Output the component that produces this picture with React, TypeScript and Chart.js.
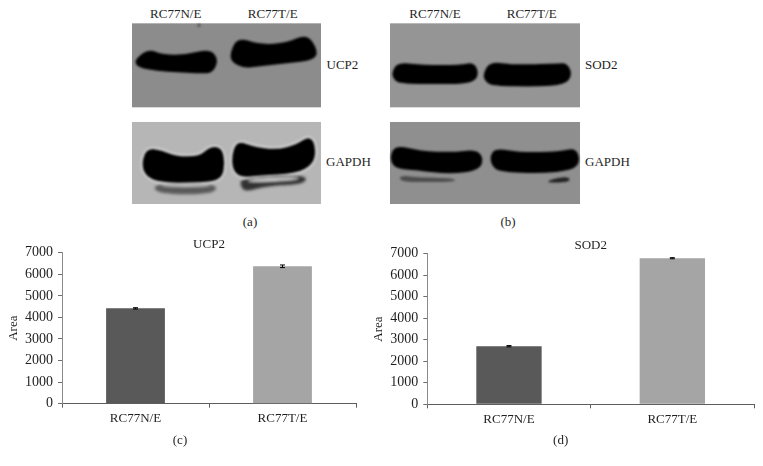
import React, { useEffect, useRef } from "react";
import { Chart, registerables } from "chart.js";

Chart.register(...registerables);

const categories = ["RC77N/E", "RC77T/E"];
const ucp2Values = [4420, 6370];
const ucp2Errors = [30, 60];
const sod2Values = [2700, 6790];
const sod2Errors = [30, 25];
const yTicks = [0, 1000, 2000, 3000, 4000, 5000, 6000, 7000];
const barColors = ["#595959", "#a5a5a5"];

const FONT = "'Liberation Serif', serif";
const INK = "#1f1f1f";

const errorBars = {
  id: "errorBars",
  afterDatasetsDraw(chart: any, _a: any, opts: any) {
    const { ctx, scales } = chart;
    const meta = chart.getDatasetMeta(0);
    ctx.save();
    ctx.strokeStyle = "#000";
    ctx.lineWidth = 1;
    meta.data.forEach((bar: any, i: number) => {
      const v = chart.data.datasets[0].data[i];
      const e = opts.errors[i];
      const hi = scales.y.getPixelForValue(v + e);
      const lo = scales.y.getPixelForValue(v - e);
      ctx.beginPath();
      ctx.moveTo(bar.x, hi);
      ctx.lineTo(bar.x, lo);
      ctx.moveTo(bar.x - 2.5, hi);
      ctx.lineTo(bar.x + 2.5, hi);
      ctx.moveTo(bar.x - 2.5, lo);
      ctx.lineTo(bar.x + 2.5, lo);
      ctx.stroke();
    });
    ctx.restore();
  },
};

type PanelProps = {
  title: string;
  values: number[];
  errors: number[];
  left: number;
  top: number;
  width: number;
  height: number;
  axisLeft: number;
  axisRight: number;
  axisTop: number;
  axisBottom: number;
  titlePad: number;
};

function BarPanel(p: PanelProps) {
  const ref = useRef<HTMLCanvasElement>(null);
  useEffect(() => {
    const chart = new Chart(ref.current!, {
      type: "bar",
      plugins: [errorBars],
      data: {
        labels: categories,
        datasets: [
          {
            data: p.values,
            backgroundColor: barColors,
            categoryPercentage: 1,
            barPercentage: 0.4,
          },
        ],
      },
      options: {
        responsive: false,
        animation: false,
        devicePixelRatio: 1,
        layout: {
          padding: { left: 0, right: p.width - p.axisRight, top: p.axisTop - 16.4, bottom: 0 },
        },
        plugins: {
          legend: { display: false },
          tooltip: { enabled: false },
          title: {
            display: true,
            fullSize: false,
            text: p.title,
            color: INK,
            font: { family: FONT, size: 13, weight: "normal", lineHeight: 1.2 },
            padding: { top: 0, bottom: 0.8 },
          },
          errorBars: { errors: p.errors },
        } as any,
        scales: {
          x: {
            afterFit: (s: any) => {
              s.height = p.height - p.axisBottom;
            },
            grid: { display: true, drawOnChartArea: false, offset: true, tickLength: 4, color: "#5e5e5e" },
            border: { color: "#5e5e5e", width: 1 },
            ticks: { color: INK, font: { family: FONT, size: 13 }, padding: 3, maxRotation: 0 },
          },
          y: {
            min: 0,
            max: 7000,
            afterFit: (s: any) => {
              s.width = p.axisLeft;
            },
            afterBuildTicks: (s: any) => {
              s.ticks = yTicks.map((value) => ({ value }));
            },
            grid: { display: true, drawOnChartArea: false, tickLength: 4, color: "#6e6e6e" },
            border: { color: "#8a8a8a", width: 1 },
            ticks: {
              color: INK,
              font: { family: FONT, size: 14 },
              padding: 5,
              callback: (v: any) => String(v),
            },
            title: {
              display: true,
              text: "Area",
              color: INK,
              font: { family: FONT, size: 13, lineHeight: 1.2 },
              padding: { top: p.titlePad, bottom: 0 },
            },
          },
        },
      } as any,
    });
    return () => chart.destroy();
  }, []);
  return (
    <canvas
      ref={ref}
      width={p.width}
      height={p.height}
      style={{ position: "absolute", left: p.left, top: p.top, width: p.width, height: p.height }}
    />
  );
}

function Label({ x, y, text, center }: { x: number; y: number; text: string; center?: boolean }) {
  return (
    <div
      style={{
        position: "absolute",
        left: x,
        top: y,
        transform: center ? "translate(-50%, -50%)" : "translateY(-50%)",
        font: `13px ${FONT}`,
        color: INK,
        whiteSpace: "nowrap",
      }}
    >
      {text}
    </div>
  );
}

// Blot band outlines, traced in 3x crop units of each panel; corners are rounded off through edge midpoints.
const P = (s: string) => {
  const pts = s.trim().split(/\s+/).map((q) => q.split(",").map(Number));
  const mid = (a: number[], b: number[]) => [(a[0] + b[0]) / 2, (a[1] + b[1]) / 2];
  const start = mid(pts[pts.length - 1], pts[0]);
  let d = `M${start[0]},${start[1]}`;
  pts.forEach((pt, i) => {
    const m = mid(pt, pts[(i + 1) % pts.length]);
    d += ` Q${pt[0]},${pt[1]} ${m[0]},${m[1]}`;
  });
  return d + " Z";
};

function Blots() {
  const band = (d: string, key: string) => <path key={key} d={P(d)} fill="#030303" stroke="#030303" strokeWidth={6} strokeLinejoin="round" />;
  const halo = (d: string, key: string) => <path key={key} d={P(d)} fill="none" stroke="#e2e2e2" strokeWidth={14} strokeLinejoin="round" />;
  const gapA1 = "68,490 82,448 125,453 165,472 240,472 270,443 303,445 312,490 303,535 250,545 120,545 78,525";
  const gapA2 = "338,470 352,425 400,443 470,452 530,437 570,410 585,445 578,490 530,518 420,523 365,530 342,510";
  return (
    <svg width={763} height={230} style={{ position: "absolute", left: 0, top: 0 }}>
      <defs>
        <filter id="b1" x="-20%" y="-40%" width="140%" height="180%"><feGaussianBlur stdDeviation="3.5" /></filter>
        <filter id="b2" x="-20%" y="-60%" width="140%" height="220%"><feGaussianBlur stdDeviation="5" /></filter>
      </defs>
      <g transform="translate(120,0) scale(0.3333)">
        <rect x="36" y="70" width="567" height="252" fill="#8c8c8c" />
        <rect x="36" y="366" width="567" height="246" fill="#b6b6b6" />
        <g filter="url(#b1)">
          <circle cx="237" cy="76" r="5" fill="#555" />
          {band("44,183 85,150 130,167 200,167 268,150 292,178 278,215 245,218 180,214 110,210 58,200", "u1")}
          {band("335,155 355,115 420,137 500,132 560,105 590,150 582,178 500,186 420,196 370,202 335,182", "u2")}
        </g>
        <g filter="url(#b2)">
          {halo(gapA1, "h1")}
          {halo(gapA2, "h2")}
          <path d={P("102,550 288,550 288,578 200,584 106,578")} fill="#5a5a5a" />
          <path d={P("362,532 556,522 558,552 440,558 380,575 362,562")} fill="#333" />
          <path d={P("125,552 270,552 270,560 125,560")} fill="#c8c8c8" />
          <path d={P("385,537 535,530 535,540 385,547")} fill="#d0d0d0" />
        </g>
        <g filter="url(#b1)">
          {band(gapA1, "g1")}
          {band(gapA2, "g2")}
        </g>
      </g>
      <g transform="translate(380,0) scale(0.3333)">
        <rect x="30" y="70" width="570" height="252" fill="#959595" />
        <rect x="30" y="366" width="570" height="246" fill="#8f8f8f" />
        <g filter="url(#b1)">
          {band("38,218 55,190 130,198 240,198 280,190 294,220 278,246 200,250 65,248 44,238", "s1")}
          {band("312,222 332,188 400,197 530,194 560,192 574,225 553,252 470,257 342,255 318,243", "s2")}
          {band("32,472 48,438 120,456 220,460 285,452 307,472 298,508 210,520 110,508 46,503", "s3")}
          {band("332,472 347,447 420,460 540,458 585,447 598,482 578,508 480,518 368,513 342,502", "s4")}
          <path d={P("60,526 110,532 225,535 225,546 110,546 60,544")} fill="#4d4d4d" />
          <path d={P("505,540 565,528 572,546 505,549")} fill="#222" />
        </g>
      </g>
    </svg>
  );
}

export default function App() {
  return (
    <div style={{ position: "fixed", left: 0, top: 0, width: 763, height: 466, background: "#fff", overflow: "hidden" }}>
      <Blots />
      <Label center x={175.7} y={14} text="RC77N/E" />
      <Label center x={272.7} y={14} text="RC77T/E" />
      <Label center x={435} y={14} text="RC77N/E" />
      <Label center x={531.7} y={14} text="RC77T/E" />
      <Label x={326.5} y={65} text="UCP2" />
      <Label x={326} y={162} text="GAPDH" />
      <Label x={585} y={65} text="SOD2" />
      <Label x={585} y={162} text="GAPDH" />
      <Label center x={250} y={222} text="(a)" />
      <Label center x={508} y={222} text="(b)" />
      <BarPanel title="UCP2" values={ucp2Values} errors={ucp2Errors} left={0} top={230} width={380} height={220}
        axisLeft={62} axisRight={356} axisTop={22.7} axisBottom={173.7} titlePad={6} />
      <BarPanel title="SOD2" values={sod2Values} errors={sod2Errors} left={370} top={230} width={393} height={220}
        axisLeft={57.3} axisRight={384} axisTop={23.7} axisBottom={174.3} titlePad={0.5} />
      <Label center x={180} y={440} text="(c)" />
      <Label center x={560.7} y={440} text="(d)" />
    </div>
  );
}
